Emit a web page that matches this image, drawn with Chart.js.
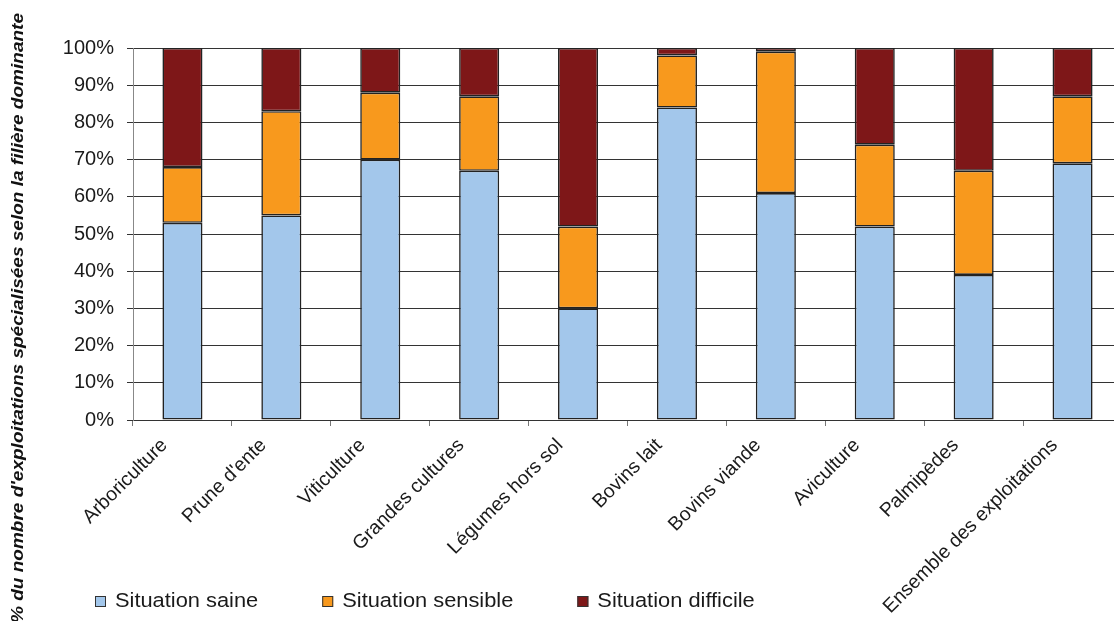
<!DOCTYPE html>
<html lang="fr">
<head>
<meta charset="utf-8">
<title>Situation financière des exploitations par filière</title>
<script src="https://cdn.jsdelivr.net/npm/chart.js@4.4.1/dist/chart.umd.min.js"></script>
<style>
  html, body { margin: 0; padding: 0; overflow: hidden; background: #ffffff; }
  #wrap { width: 1122px; height: 621px; }
</style>
</head>
<body>
<div id="wrap"><canvas id="chart" width="1122" height="621"></canvas></div>
<script>
// Filières (catégories de l'axe horizontal)
const categories = [
  "Arboriculture", "Prune d'ente", "Viticulture", "Grandes cultures",
  "Légumes hors sol", "Bovins lait", "Bovins viande", "Aviculture",
  "Palmipèdes", "Ensemble des exploitations"
];

// Part des exploitations (%) par situation financière
const situationSaine     = [53, 55, 70, 67, 30, 84, 61, 52, 39, 69];
const situationSensible  = [15, 28, 18, 20, 22, 14, 38, 22, 28, 18];
const situationDifficile = [32, 17, 12, 13, 48,  2,  1, 26, 33, 13];

// Graduations de l'axe vertical
const yTicks = [0, 10, 20, 30, 40, 50, 60, 70, 80, 90, 100];

const seriesNames = ["Situation saine", "Situation sensible", "Situation difficile"];
const yTitle = "% du nombre d'exploitations spécialisées selon la filière dominante";

const FONT = "'Liberation Sans', Arial, Helvetica, sans-serif";

// Titre vertical, gras italique, légèrement étiré dans le sens de la lecture
const yTitlePlugin = {
  id: 'yTitle',
  afterDraw(chart, args, opts) {
    const ctx = chart.ctx;
    ctx.save();
    ctx.translate(opts.x, opts.y);
    ctx.rotate(-Math.PI / 2);
    ctx.font = `italic bold ${opts.size}px ${FONT}`;
    const w = ctx.measureText(opts.text).width;
    ctx.scale(opts.length / w, 1);
    ctx.fillStyle = opts.color;
    ctx.textAlign = 'center';
    ctx.textBaseline = 'middle';
    ctx.fillText(opts.text, 0, 0);
    ctx.restore();
  }
};

// Légende en ligne sous le graphique, construite à partir des jeux de données
const bottomLegendPlugin = {
  id: 'bottomLegend',
  afterDraw(chart, args, opts) {
    const ctx = chart.ctx;
    ctx.save();
    ctx.font = `${opts.size}px ${FONT}`;
    ctx.textBaseline = 'middle';
    ctx.textAlign = 'left';
    let x = opts.x;
    chart.data.datasets.forEach(ds => {
      const top = Math.round(opts.y - opts.box / 2);
      ctx.fillStyle = ds.backgroundColor;
      ctx.fillRect(x, top, opts.box, opts.box);
      ctx.strokeStyle = '#333333';
      ctx.lineWidth = 1;
      ctx.strokeRect(x + 0.5, top + 0.5, opts.box - 1, opts.box - 1);
      const tx = x + opts.box + opts.gap;
      const tw = ctx.measureText(ds.label).width * opts.stretch;
      ctx.save();
      ctx.translate(tx, opts.y);
      ctx.scale(opts.stretch, 1);
      ctx.fillStyle = opts.color;
      ctx.fillText(ds.label, 0, 0);
      ctx.restore();
      x = tx + tw + opts.spacing;
    });
    ctx.restore();
  }
};

const colors = ['#A3C7EB', '#F8991D', '#7E1718'];
const seriesValues = [situationSaine, situationSensible, situationDifficile];

new Chart(document.getElementById('chart'), {
  type: 'bar',
  data: {
    labels: categories,
    datasets: seriesValues.map((vals, i) => ({
      label: seriesNames[i],
      data: vals,
      backgroundColor: colors[i],
      borderColor: '#222222',
      borderWidth: 1.6,
      borderSkipped: false,
      categoryPercentage: 1,
      barPercentage: 0.405
    }))
  },
  options: {
    responsive: false,
    animation: false,
    devicePixelRatio: 1,
    layout: { padding: { top: 48, right: 0, bottom: 0, left: 0 } },
    plugins: {
      legend: { display: false },
      tooltip: { enabled: false },
      yTitle: { text: yTitle, x: 19, y: 318, size: 16, length: 610, color: '#111111' },
      bottomLegend: { x: 95, y: 601, box: 11, gap: 9, spacing: 64, size: 20.5, stretch: 1.065, color: '#1a1a1a' }
    },
    scales: {
      x: {
        stacked: true,
        afterFit: s => { s.height = 201; },
        grid: {
          display: true,
          drawOnChartArea: false,
          drawTicks: true,
          tickLength: 6,
          color: '#777777',
          offset: true
        },
        border: { display: true, color: '#333333', width: 1 },
        ticks: {
          autoSkip: false,
          maxRotation: 45,
          minRotation: 45,
          labelOffset: -18,
          padding: 8,
          color: '#1a1a1a',
          font: { family: FONT, size: 19.5 }
        }
      },
      y: {
        stacked: true,
        min: 0,
        max: 100,
        afterFit: s => { s.width = 133; },
        afterBuildTicks: s => { s.ticks = yTicks.map(v => ({ value: v })); },
        grid: {
          color: '#333333',
          lineWidth: 1,
          tickLength: 6,
          drawTicks: true
        },
        border: { display: true, color: '#888888', width: 1 },
        ticks: {
          padding: 13,
          color: '#1a1a1a',
          font: { family: FONT, size: 20 },
          callback: v => v + '%'
        }
      }
    }
  },
  plugins: [yTitlePlugin, bottomLegendPlugin]
});
</script>
</body>
</html>
